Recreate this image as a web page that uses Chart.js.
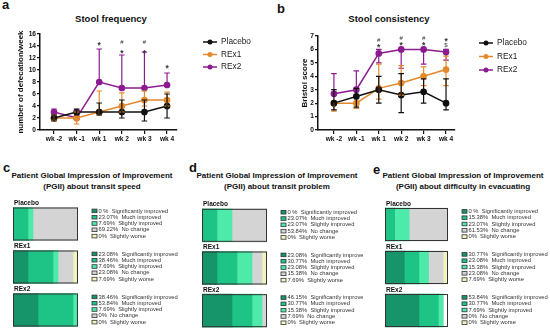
<!DOCTYPE html>
<html><head><meta charset="utf-8">
<script src="https://cdn.jsdelivr.net/npm/chart.js@4.4.1/dist/chart.umd.min.js"></script>
<style>
body{margin:0;width:550px;height:332px;background:#fff;position:relative;overflow:hidden;font-family:"Liberation Sans",Arial,sans-serif;}
canvas{position:absolute;}
.t{position:absolute;font-weight:bold;color:#111;white-space:nowrap;text-align:center;}
.L{position:absolute;font-weight:bold;color:#111;font-size:13px;line-height:13px;}
</style></head><body>
<div class="L" style="left:2px;top:-2px">a</div>
<div class="L" style="left:277px;top:2px">b</div>
<div class="L" style="left:3px;top:161px">c</div>
<div class="L" style="left:189px;top:161px">d</div>
<div class="L" style="left:373px;top:163px">e</div>
<div class="t" style="left:11px;width:200px;top:14px;font-size:9.5px;line-height:9.5px">Stool frequency</div>
<div class="t" style="left:289px;width:200px;top:14px;font-size:9.5px;line-height:9.5px">Stool consistency</div>
<div class="t" style="left:-8px;width:200px;top:171px;font-size:8px;line-height:10.5px">Patient Global Impression of Improvement<br>(PGII) about transit speed</div>
<div class="t" style="left:177px;width:200px;top:171px;font-size:8px;line-height:10.5px">Patient Global Impression of Improvement<br>(PGII) about transit problem</div>
<div class="t" style="left:363px;width:200px;top:171px;font-size:8px;line-height:10.5px">Patient Global Impression of Improvement<br>(PGII) about difficulty in evacuating</div>
<canvas id="ca" width="275" height="160" style="left:0;top:0"></canvas>
<canvas id="cb" width="275" height="160" style="left:275px;top:0"></canvas>
<canvas id="cc" width="183" height="137" style="left:0;top:195px"></canvas>
<canvas id="cd" width="180" height="137" style="left:183px;top:195px"></canvas>
<canvas id="ce" width="185" height="137" style="left:365px;top:195px"></canvas>
<script>
// ---------- data ----------
const weeks = ["wk -2","wk -1","wk 1","wk 2","wk 3","wk 4"];
const seriesNames = ["Placebo","REx1","REx2"];
const seriesColors = ["#111111","#e3892c","#8b1c8f"];

const freqPlacebo   = [2, 3, 3, 3, 3, 4];
const freqPlaceboLo = [1.5, 2.5, 2.5, 2, 1.5, 2];
const freqPlaceboHi = [2.5, 3.5, 4.5, 5, 5, 6];
const freqREx1      = [2, 2, 3, 4, 5, 5];
const freqREx1Lo    = [1.6, 1, 2.5, 3, 4, 4];
const freqREx1Hi    = [2.5, 3, 6.5, 6.2, 6.5, 6.3];
const freqREx2      = [3, 2, 8, 7, 7, 7.5];
const freqREx2Lo    = [2.5, 2, 8, 7, 7, 7.5];
const freqREx2Hi    = [3.5, 3.3, 13.5, 12.5, 13, 9.5];
const freqStar = [null, null, 14.3, 13.1, 13.1, 10.5];
const freqHash = [null, null, null, 14.6, 14.6, null];
const freqYTicks = [0, 16, 2];

const consPlacebo   = [2, 2.5, 3, 2.6, 2.85, 2];
const consPlaceboLo = [1.5, 1.7, 2, 1.3, 2, 1.5];
const consPlaceboHi = [3, 3.1, 4, 4.2, 3.8, 3.8];
const consREx1      = [2, 2, 3.1, 3.5, 4, 4.5];
const consREx1Lo    = [1.4, 1.6, 2.3, 2.6, 3.3, 3.3];
const consREx1Hi    = [2, 2, 4.9, 4.8, 4.7, 5.5];
const consREx2      = [2.7, 3, 5.7, 6, 6, 5.8];
const consREx2Lo    = [2.7, 3, 5.0, 4.6, 4.9, 5.2];
const consREx2Hi    = [4.2, 4.4, 6, 6, 6, 6];
const consStar   = [null, null, 6.3, 6.45, 6.45, 6.7];
const consHash   = [null, null, 6.68, 6.85, 6.82, null];
const consDollar = [null, null, null, null, null, 6.33];
const consYTicks = [0, 7, 1];

const pgiiCats = ["Significantly improved","Much improved","Slightly improved","No change","Slightly worse"];
const pgiiColors = ["#17956a","#1ec485","#4deaa9","#d4d4d4","#f3f3bf"];
const groups = ["Placebo","REx1","REx2"];
const speedPlacebo = [0, 23.07, 7.69, 69.22, 0];
const speedREx1    = [23.08, 38.46, 7.69, 23.08, 7.69];
const speedREx2    = [38.46, 53.84, 7.69, 0, 0];
const problemPlacebo = [0, 23.07, 23.07, 53.84, 0];
const problemREx1    = [23.08, 30.77, 23.08, 15.38, 7.69];
const problemREx2    = [46.15, 30.77, 15.38, 7.69, 0];
const evacPlacebo = [0, 15.38, 23.07, 61.53, 0];
const evacREx1    = [30.77, 23.08, 15.38, 23.08, 7.69];
const evacREx2    = [53.84, 30.77, 7.69, 0, 0];

// ---------- plugins ----------
const FONT = '"Liberation Sans", Arial, sans-serif';
const errPlugin = {
  id: 'errbars',
  afterDatasetsDraw(chart) {
    const ctx = chart.ctx, xs = chart.scales.x, ys = chart.scales.y;
    for (let d = chart.data.datasets.length - 1; d >= 0; d--) {
      const ds = chart.data.datasets[d];
      ctx.save();
      ctx.strokeStyle = ds.borderColor; ctx.lineWidth = 1.2;
      ds.data.forEach((p, i) => {
        const x = xs.getPixelForValue(p.x);
        const yl = ys.getPixelForValue(ds.errLo[i]), yh = ys.getPixelForValue(ds.errHi[i]);
        ctx.beginPath(); ctx.moveTo(x, yl); ctx.lineTo(x, yh);
        if (ds.errHi[i] > p.y) { ctx.moveTo(x - 2.8, yh); ctx.lineTo(x + 2.8, yh); }
        if (ds.errLo[i] < p.y) { ctx.moveTo(x - 2.8, yl); ctx.lineTo(x + 2.8, yl); }
        ctx.stroke();
      });
      ctx.restore();
    }
  }
};
const marksPlugin = {
  id: 'marks',
  afterDatasetsDraw(chart, args, opts) {
    const ctx = chart.ctx, xs = chart.scales.x, ys = chart.scales.y;
    ctx.save();
    ctx.fillStyle = '#333'; ctx.textAlign = 'center'; ctx.textBaseline = 'middle';
    (opts.items || []).forEach(it => {
      it.arr.forEach((v, i) => {
        if (v == null) return;
        const isStar = it.ch === '*';
        ctx.font = (isStar ? 'bold 8.5px ' : '6px ') + FONT;
        ctx.fillText(it.ch, xs.getPixelForValue(i), ys.getPixelForValue(v) + (isStar ? 1.8 : 0));
      });
    });
    ctx.restore();
  }
};
const lineLegendPlugin = {
  id: 'lineLegend',
  afterDraw(chart, args, opts) {
    const ctx = chart.ctx;
    ctx.save();
    chart.data.datasets.forEach((ds, k) => {
      const y = opts.y0 + k * opts.dy;
      ctx.strokeStyle = ds.borderColor; ctx.lineWidth = 1.5;
      ctx.beginPath(); ctx.moveTo(opts.x - 7, y); ctx.lineTo(opts.x + 7, y); ctx.stroke();
      ctx.fillStyle = ds.borderColor;
      ctx.beginPath(); ctx.arc(opts.x, y, 2.5, 0, Math.PI * 2); ctx.fill();
      ctx.fillStyle = '#222'; ctx.font = '8.3px ' + FONT; ctx.textBaseline = 'middle'; ctx.textAlign = 'left';
      ctx.fillText(ds.label, opts.x + 11, y);
    });
    ctx.restore();
  }
};

function lineChart(id, means, los, his, yTicks, yTitle, pad, yw, xmin, xmax, legend, marks) {
  const datasets = seriesNames.map((n, k) => ({
    label: n,
    data: weeks.map((w, i) => ({x: i, y: means[k][i]})),
    errLo: los[k], errHi: his[k],
    borderColor: seriesColors[k], backgroundColor: seriesColors[k],
    pointBackgroundColor: seriesColors[k], pointBorderColor: seriesColors[k],
    pointRadius: 2.6, borderWidth: 1.5, tension: 0
  }));
  const tickFont = {family: FONT, size: 6.6, weight: 'bold'};
  return new Chart(document.getElementById(id), {
    type: 'line',
    data: {datasets},
    plugins: [errPlugin, marksPlugin, lineLegendPlugin],
    options: {
      responsive: false, animation: false, devicePixelRatio: 1,
      layout: {padding: pad},
      plugins: {legend: {display: false}, title: {display: false}, tooltip: {enabled: false},
        lineLegend: legend, marks: {items: marks}},
      scales: {
        x: {type: 'linear', min: xmin, max: xmax,
          afterBuildTicks: s => { s.ticks = weeks.map((w, i) => ({value: i})); },
          afterFit: s => { s.height = 30; },
          ticks: {callback: v => weeks[v], font: tickFont, color: '#111', padding: 1, maxRotation: 0, autoSkip: false},
          grid: {display: true, drawOnChartArea: false, drawTicks: true, tickLength: 4, color: '#111', lineWidth: 1.2},
          border: {display: true, color: '#111', width: 1.5}},
        y: {min: yTicks[0], max: yTicks[1],
          afterFit: s => { s.width = yw; },
          ticks: {stepSize: yTicks[2], font: tickFont, color: '#111', padding: 1},
          title: {display: true, text: yTitle, color: '#111', font: {family: FONT, size: 8, weight: 'bold'}, padding: {top: 4, bottom: 4}},
          grid: {display: true, drawOnChartArea: false, drawTicks: true, tickLength: 3, color: '#111', lineWidth: 1.2},
          border: {display: true, color: '#111', width: 1.5}}
      }
    }
  });
}

lineChart('ca',
  [freqPlacebo, freqREx1, freqREx2], [freqPlaceboLo, freqREx1Lo, freqREx2Lo], [freqPlaceboHi, freqREx1Hi, freqREx2Hi],
  freqYTicks, 'number of defecation/week', {left: 12, right: 98, top: 34, bottom: 0}, 28, -0.62, 5.44,
  {x: 210, y0: 42, dy: 12.5},
  [{arr: freqStar, ch: '*'}, {arr: freqHash, ch: '#'}]);

lineChart('cb',
  [consPlacebo, consREx1, consREx2], [consPlaceboLo, consREx1Lo, consREx2Lo], [consPlaceboHi, consREx1Hi, consREx2Hi],
  consYTicks, 'Bristol score', {left: 21, right: 95, top: 36, bottom: 0}, 22, -0.71, 5.4,
  {x: 211, y0: 43, dy: 13.5},
  [{arr: consStar, ch: '*'}, {arr: consHash, ch: '#'}, {arr: consDollar, ch: '$'}]);

const pgiiPlugin = {
  id: 'pgii',
  afterDatasetsDraw(chart) {
    const ctx = chart.ctx, xs = chart.scales.x;
    const x0 = xs.getPixelForValue(0), x1 = xs.getPixelForValue(100);
    const meta0 = chart.getDatasetMeta(0);
    meta0.data.forEach((bar, i) => {
      const h = bar.height, top = bar.y - h / 2;
      ctx.save();
      ctx.strokeStyle = '#333'; ctx.lineWidth = 1;
      ctx.strokeRect(x0 + 0.5, top + 0.5, x1 - x0 - 1, h - 1);
      ctx.fillStyle = '#111'; ctx.font = 'bold 6.5px ' + FONT; ctx.textAlign = 'left'; ctx.textBaseline = 'alphabetic';
      ctx.fillText(chart.data.labels[i], x0 + 1, top - 2.5);
      const sx = x1 + 14;
      chart.data.datasets.forEach((ds, k) => {
        const y = bar.y - 0.5 + (k - 2) * 6.3;
        ctx.fillStyle = ds.backgroundColor; ctx.fillRect(sx, y - 1.8, 5, 3.6);
        ctx.strokeStyle = '#333'; ctx.lineWidth = 0.8; ctx.strokeRect(sx, y - 1.8, 5, 3.6);
        const v = ds.data[i];
        const lbl = (v === 0 && i === 0 && k === 0) ? '0 %' : v + '%';
        ctx.fillStyle = '#333'; ctx.font = '5.8px ' + FONT; ctx.textBaseline = 'middle';
        ctx.fillText(lbl + '  ' + ds.label, sx + 6.5, y);
      });
      ctx.restore();
    });
  }
};

function pgiiChart(id, rows, pad) {
  const datasets = pgiiCats.map((c, k) => ({
    label: c, data: rows.map(r => r[k]), backgroundColor: pgiiColors[k], borderWidth: 0, barThickness: 33
  }));
  return new Chart(document.getElementById(id), {
    type: 'bar',
    data: {labels: groups, datasets},
    plugins: [pgiiPlugin],
    options: {
      indexAxis: 'y', responsive: false, animation: false, devicePixelRatio: 1,
      layout: {padding: pad},
      plugins: {legend: {display: false}, title: {display: false}, tooltip: {enabled: false}},
      scales: {x: {stacked: true, min: 0, max: 100, display: false}, y: {stacked: true, display: false}}
    }
  });
}
pgiiChart('cc', [speedPlacebo, speedREx1, speedREx2], {left: 13, right: 105, top: 7.5, bottom: 0.5});
pgiiChart('cd', [problemPlacebo, problemREx1, problemREx2], {left: 19, right: 96, top: 9, bottom: 0});
pgiiChart('ce', [evacPlacebo, evacREx1, evacREx2], {left: 20, right: 102, top: 8, bottom: 0});
</script>
</body></html>
